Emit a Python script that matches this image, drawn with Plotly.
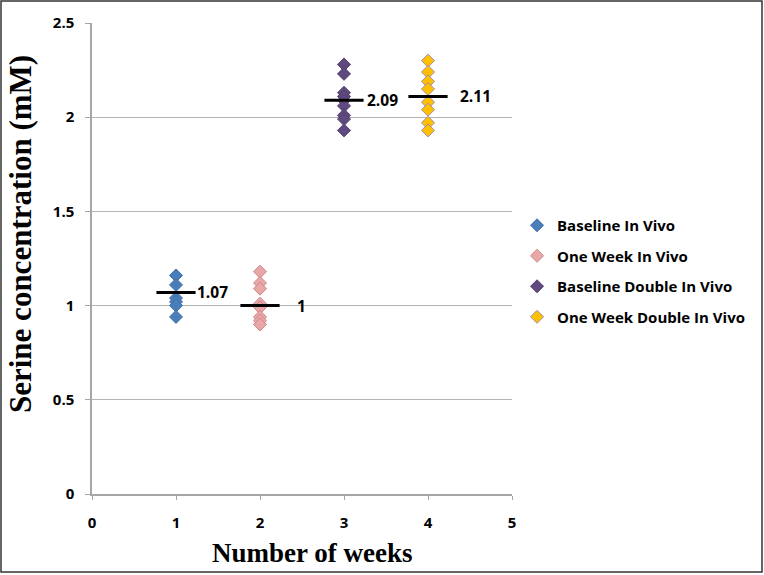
import plotly.graph_objects as go

series_names = ["Baseline In Vivo", "One Week In Vivo", "Baseline Double In Vivo", "One Week Double In Vivo"]
series_x = [1, 2, 3, 4]
baseline_vals = [1.16, 1.11, 1.04, 1.02, 1.00, 0.94]
oneweek_vals = [1.18, 1.12, 1.09, 1.01, 0.99, 0.94, 0.92, 0.90]
baseline_double_vals = [2.28, 2.23, 2.13, 2.11, 2.09, 2.06, 2.01, 1.99, 1.93]
oneweek_double_vals = [2.30, 2.24, 2.19, 2.15, 2.08, 2.04, 1.97, 1.93]
means = [1.07, 1.00, 2.09, 2.11]
mean_labels = ["1.07", "1", "2.09", "2.11"]
x_ticks = [0, 1, 2, 3, 4, 5]
y_ticks = [0, 0.5, 1, 1.5, 2, 2.5]

all_vals = [baseline_vals, oneweek_vals, baseline_double_vals, oneweek_double_vals]
fills = ["#4a7ebb", "#e8a8a8", "#5f4a80", "#ffc000"]
borders = ["#3f6fa8", "#cf8585", "#54406f", "#a08aa8"]

sans = "Open Sans, Liberation Sans, sans-serif"
serif = "Liberation Serif, Times New Roman, serif"

fig = go.Figure()
for i, (name, xv, vals, fc, bc) in enumerate(zip(series_names, series_x, all_vals, fills, borders)):
    fig.add_trace(go.Scatter(
        x=[xv] * len(vals), y=vals, mode="markers", name=name, legendgroup="g%d" % i,
        marker=dict(symbol="diamond", size=10, color=fc, line=dict(color=bc, width=1)),
    ))

# mean bars
fig.add_trace(go.Scatter(
    x=series_x, y=means, mode="markers", showlegend=False, hoverinfo="skip",
    marker=dict(symbol="line-ew", size=28, line=dict(color="black", width=3)),
))

label_shift = [19, 35, 21, 30]
for xv, m, lab, sh in zip(series_x, means, mean_labels, label_shift):
    fig.add_annotation(x=xv, y=m, text="<b>" + lab + "</b>", showarrow=False,
                       xanchor="left", yanchor="middle", xshift=sh,
                       font=dict(family=sans, size=15.5, color="black"))

# axis titles
fig.add_annotation(xref="paper", yref="paper", x=(20 - 92) / 420, y=(494 - 234) / 471,
                   text="<b>Serine concentration (mM)</b>", textangle=-90, showarrow=False,
                   xanchor="center", yanchor="middle",
                   font=dict(family=serif, size=31, color="black"))
fig.add_annotation(xref="paper", yref="paper", x=(312 - 92) / 420, y=(494 - 553) / 471,
                   text="<b>Number of weeks</b>", showarrow=False,
                   xanchor="center", yanchor="middle",
                   font=dict(family=serif, size=27, color="black"))

# outer frame
fig.add_shape(type="rect", xref="paper", yref="paper",
              x0=(1 - 92) / 420, x1=(762 - 92) / 420,
              y0=(494 - 572) / 471, y1=(494 - 1) / 471,
              line=dict(color="#333333", width=1.5), layer="below")

tickfont = dict(family=sans, size=15, color="black")
fig.update_layout(
    width=764, height=575,
    margin=dict(l=92, r=252, t=23, b=81, autoexpand=False),
    paper_bgcolor="white", plot_bgcolor="white",
    showlegend=True,
    legend=dict(x=1.012, y=0.605, xanchor="left", yanchor="top",
                font=dict(family=sans, size=15, color="black", weight="bold"),
                tracegroupgap=8, itemwidth=30, traceorder="grouped"),
    xaxis=dict(range=[0, 5], tickvals=x_ticks, ticktext=["<b>%d</b>" % t for t in x_ticks],
               showgrid=False, zeroline=False, showline=True, linecolor="#a6a6a6", linewidth=1.5,
               ticks="outside", ticklen=4, tickcolor="#a6a6a6", tickfont=tickfont,
               ticklabelstandoff=10, automargin=False),
    yaxis=dict(range=[0, 2.5], tickvals=y_ticks, ticktext=["<b>%g</b>" % t for t in y_ticks],
               showgrid=True, gridcolor="#b3b3b3", gridwidth=1, zeroline=False,
               showline=True, linecolor="#a6a6a6", linewidth=1.5,
               ticks="outside", ticklen=5, tickcolor="#a6a6a6", tickfont=tickfont,
               ticklabelstandoff=8, automargin=False),
)

fig.write_html("out.html", config={"displayModeBar": False},
               post_script="document.body.style.margin='0';document.body.style.overflow='hidden';")
